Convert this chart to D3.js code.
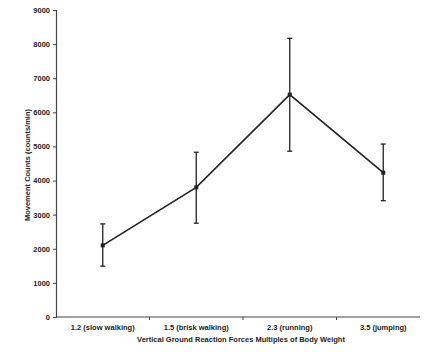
<!DOCTYPE html>
<html>
<head>
<meta charset="utf-8">
<script src="https://cdn.jsdelivr.net/npm/d3@7"></script>
<style>
  body { margin: 0; background: #fff; }
  svg { display: block; }
  .tick text { font-family: "Liberation Sans", Arial, sans-serif; font-size: 7.5px; fill: #222; font-weight: bold; }
</style>
</head>
<body>
<svg id="chart" width="431" height="352"></svg>
<script>
const categories = ["1.2 (slow walking)", "1.5 (brisk walking)", "2.3 (running)", "3.5 (jumping)"];
const means = [2100, 3800, 6520, 4230];
const upper = [2730, 4830, 8170, 5070];
const lower = [1490, 2750, 4860, 3410];
const yTicks = [0, 1000, 2000, 3000, 4000, 5000, 6000, 7000, 8000, 9000];

const svg = d3.select("#chart");
const ink = "#222";
const font = "Liberation Sans, Arial, sans-serif";

const x = d3.scaleBand().domain(categories).range([56, 430]);
const y = d3.scaleLinear().domain([0, 9000]).range([317, 10]);
const cx = d => x(d) + x.bandwidth() / 2;

// y axis
const yAxis = svg.append("g")
  .attr("transform", "translate(56,0)")
  .call(d3.axisLeft(y).tickValues(yTicks).tickSize(3).tickPadding(3).tickFormat(d3.format("d")));
yAxis.select(".domain").attr("stroke", "#444").attr("stroke-width", 1.2);
yAxis.selectAll(".tick line").attr("stroke", "#444");

// x axis
const xAxis = svg.append("g").attr("transform", "translate(0,317)");
xAxis.append("line")
  .attr("x1", 56).attr("x2", 420)
  .attr("stroke", "#444").attr("stroke-width", 1.2);
xAxis.selectAll("line.tk")
  .data(categories.slice(1))
  .join("line")
  .attr("class", "tk")
  .attr("x1", d => x(d)).attr("x2", d => x(d))
  .attr("y1", 0).attr("y2", 3)
  .attr("stroke", "#444");
xAxis.selectAll("text")
  .data(categories)
  .join("text")
  .attr("x", d => cx(d))
  .attr("y", 13)
  .attr("text-anchor", "middle")
  .style("font-family", font)
  .style("font-size", "7.5px")
  .style("font-weight", "bold")
  .attr("fill", ink)
  .text(d => d);

// axis titles
svg.append("text")
  .attr("x", 241).attr("y", 342)
  .attr("text-anchor", "middle")
  .style("font-family", font)
  .style("font-size", "7.5px")
  .style("font-weight", "bold")
  .attr("fill", ink)
  .text("Vertical Ground Reaction Forces Multiples of Body Weight");

svg.append("text")
  .attr("transform", "translate(30,165) rotate(-90)")
  .attr("text-anchor", "middle")
  .style("font-family", font)
  .style("font-size", "7.5px")
  .style("font-weight", "bold")
  .attr("fill", ink)
  .text("Movement Counts (counts/min)");

// error bars
const bars = svg.append("g").attr("stroke", ink).attr("stroke-width", 1.3);
bars.selectAll("line.v")
  .data(categories)
  .join("line")
  .attr("class", "v")
  .attr("x1", d => cx(d)).attr("x2", d => cx(d))
  .attr("y1", (d, i) => y(upper[i])).attr("y2", (d, i) => y(lower[i]));
bars.selectAll("line.t")
  .data(categories)
  .join("line")
  .attr("class", "t")
  .attr("x1", d => cx(d) - 2.5).attr("x2", d => cx(d) + 2.5)
  .attr("y1", (d, i) => y(upper[i])).attr("y2", (d, i) => y(upper[i]));
bars.selectAll("line.b")
  .data(categories)
  .join("line")
  .attr("class", "b")
  .attr("x1", d => cx(d) - 2.5).attr("x2", d => cx(d) + 2.5)
  .attr("y1", (d, i) => y(lower[i])).attr("y2", (d, i) => y(lower[i]));

// mean line
const line = d3.line()
  .x(d => cx(d))
  .y((d, i) => y(means[i]));
svg.append("path")
  .datum(categories)
  .attr("d", line)
  .attr("fill", "none")
  .attr("stroke", ink)
  .attr("stroke-width", 1.6);

svg.selectAll("rect.pt")
  .data(categories)
  .join("rect")
  .attr("class", "pt")
  .attr("x", d => cx(d) - 2).attr("y", (d, i) => y(means[i]) - 2)
  .attr("width", 4).attr("height", 4)
  .attr("fill", ink);
</script>
</body>
</html>
